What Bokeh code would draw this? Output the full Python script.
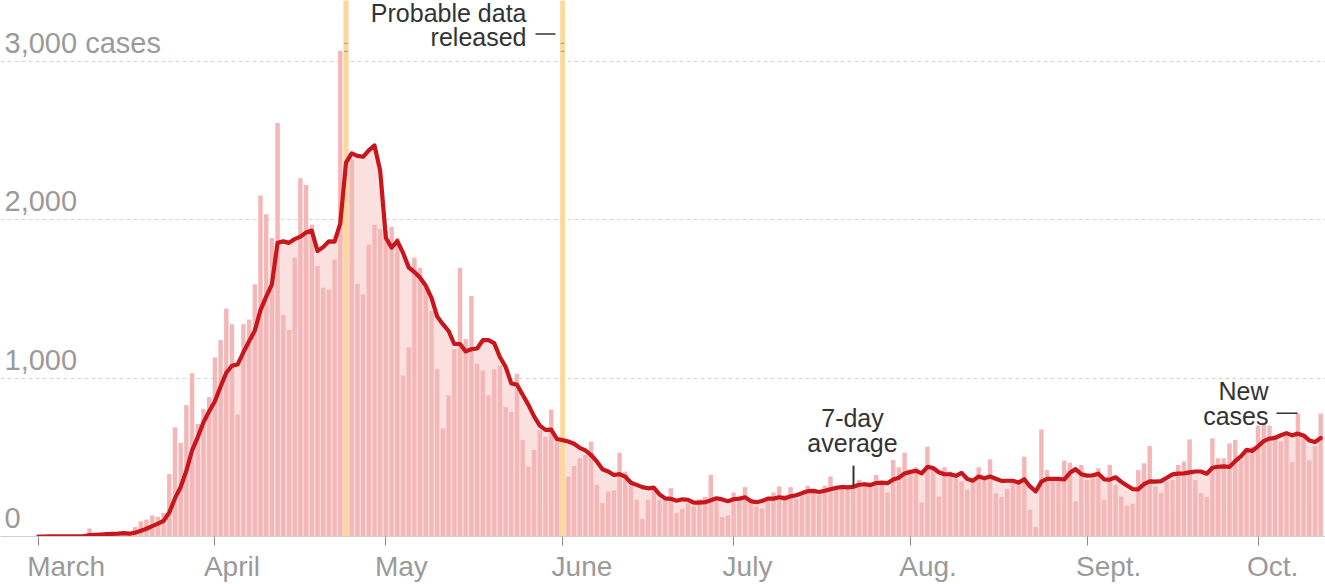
import numpy as np
import pandas as pd
from bokeh.plotting import figure
from bokeh.models import Range1d, FixedTicker, CustomJSTickFormatter, Grid
from bokeh.core.properties import value
from bokeh.embed import file_html
from bokeh.resources import INLINE

# Daily new cases, March 1 (index 0) to Oct. 12, 2020 (index 225)
new_cases = [
    0, 0, 1, 0, 1, 1, 2, 2, 4, 50,
    15, 13, 16, 15, 17, 26, 22, 60, 96, 107,
    132, 125, 150, 394, 690, 590, 830, 1030, 710, 805,
    880, 1130, 1240, 1440, 1340, 770, 1340, 1370, 1592, 2152,
    2035, 1885, 2610, 1399, 1303, 1759, 2261, 2219, 1968, 1707,
    1571, 1560, 1749, 3066, 4900, 2380, 1596, 1529, 1843, 1968,
    1943, 1930, 1956, 1885, 1017, 1194, 1759, 1696, 1571, 1424,
    1058, 682, 891, 1184, 1696, 1247, 1519, 1090, 1048, 891,
    1056, 1079, 818, 786, 1027, 609, 441, 546, 671, 630,
    801, 609, 560, 379, 446, 494, 515, 598, 326, 211,
    284, 290, 529, 410, 326, 232, 111, 232, 316, 232,
    236, 305, 149, 174, 211, 190, 236, 250, 389, 240,
    123, 132, 278, 257, 312, 222, 190, 178, 237, 278,
    316, 264, 312, 237, 274, 320, 295, 264, 320, 379,
    295, 316, 299, 320, 358, 341, 341, 389, 330, 278,
    483, 437, 529, 410, 437, 215, 567, 431, 253, 437,
    410, 368, 347, 295, 358, 437, 358, 487, 274, 250,
    300, 357, 357, 504, 169, 60, 676, 420, 357, 357,
    479, 466, 222, 452, 357, 368, 431, 232, 452, 326,
    253, 195, 207, 420, 462, 571, 316, 274, 347, 357,
    452, 473, 613, 357, 274, 250, 620, 494, 494, 588,
    609, 483, 546, 567, 700, 720, 700, 640, 600, 640,
    470, 776, 640, 480, 570, 776,
]
month_labels = ["March", "April", "May", "June", "July", "Aug.", "Sept.", "Oct."]
month_starts = [0, 31, 61, 92, 122, 153, 184, 214]
y_ticks = [0, 1000, 2000, 3000]
y_tick_labels = ["0", "1,000", "2,000", "3,000 cases"]
release_days = [54, 92]  # April 24 and June 1: probable data released

days = np.arange(len(new_cases))
avg = pd.Series(new_cases, dtype=float).rolling(7, min_periods=1).mean().values

# ---- layout constants (page pixels; figure sits at the page's top-left) ----
W, H = 1325, 584
PX0 = 37.7      # page x of March 1
PXD = 5.70      # px per day
PY0 = 537       # page y of zero
PYU = 0.1587    # px per case
FONT = "Liberation Sans"
BASE_CORR = 0.36  # em; svg alphabetic baseline correction

def dx(px):
    return (px - PX0) / PXD

def dy(py):
    return (PY0 - py) / PYU

# Arial / Liberation Sans advance widths (per 1000 em)
ADV = {"M": 833, "a": 556, "r": 333, "c": 500, "h": 556, "A": 667, "p": 556, "i": 222,
       "l": 222, "y": 500, "J": 500, "u": 556, "n": 556, "e": 556, "g": 556, ".": 278,
       "S": 667, "t": 278, "O": 778}

def text_width(s, size):
    return sum(ADV.get(ch, 556) for ch in s) * size / 1000.0

x_start, x_end = dx(0), dx(W)
y_end = dy(0)

p = figure(width=W, height=H, x_range=Range1d(x_start, x_end), y_range=Range1d(0, y_end),
           output_backend="svg", toolbar_location=None, y_axis_location=None,
           min_border_left=0, min_border_right=0, min_border_top=0,
           min_border_bottom=H - PY0)
p.outline_line_color = None
p.background_fill_color = "white"
p.border_fill_color = "white"
p.grid.visible = False

grid = Grid(dimension=1, ticker=FixedTicker(ticks=y_ticks[1:]),
            grid_line_color="#d6d6d6", grid_line_dash="4 3", grid_line_width=1)
p.add_layout(grid)

# x axis: tick marks at month starts (minor ticks); labels start 11px left of each tick
LBL = 28
label_pos = [m + (text_width(t, LBL) / 2 - 11) / PXD for m, t in zip(month_starts, month_labels)]
xa = p.xaxis[0]
xa.ticker = FixedTicker(ticks=label_pos, minor_ticks=month_starts)
xa.formatter = CustomJSTickFormatter(args=dict(labels=month_labels), code="return labels[index];")
xa.major_tick_line_color = None
xa.major_tick_out = 9
xa.major_tick_in = 0
xa.minor_tick_out = 9
xa.minor_tick_in = 0
xa.minor_tick_line_color = "#8c8c8c"
xa.axis_line_color = "#d0d0d0"
xa.major_label_standoff = 5
xa.major_label_text_font = FONT
xa.major_label_text_font_size = f"{LBL}px"
xa.major_label_text_color = "#9a9a9a"

# shaded area under the 7-day average
p.varea(x=days, y1=0, y2=avg, fill_color="#fbe0e0")
# daily bars
p.vbar(x=days, top=new_cases, width=0.78, fill_color="#f4b7b7", line_color=None)
# probable data release markers
p.vbar(x=release_days, top=y_end, width=0.85, fill_color="#fcd89a", line_color=None)
for yy in (43, 51):
    p.segment(x0=[d - 0.35 for d in release_days], x1=[d + 0.35 for d in release_days],
              y0=[dy(yy)] * len(release_days), y1=[dy(yy)] * len(release_days),
              line_color="#9a9a9a", line_width=1)
# 7-day average line
p.line(days, avg, line_color="#c8161d", line_width=4.2, line_join="round", line_cap="round")

# y labels (baseline 8px above each gridline)
YL = 29
p.text(x=[x_start] * len(y_ticks), y=[v + (8 + BASE_CORR * YL) / PYU for v in y_ticks],
       text=y_tick_labels, text_font=value(FONT),
       text_font_size=f"{YL}px", text_color="#9a9a9a", text_align="left",
       text_baseline="alphabetic", x_offset=4)

# annotations
AN = 25
def note(px, py, txt, align):
    p.text(x=[dx(px)], y=[dy(py - BASE_CORR * AN)], text=[txt], text_font=value(FONT),
           text_font_size=f"{AN}px", text_color="#333333", text_align=align,
           text_baseline="alphabetic")

note(526, 22, "Probable data", "right")
note(526, 46, "released", "right")
p.segment(x0=[dx(535)], x1=[dx(555)], y0=[dy(33.5)], y1=[dy(33.5)], line_color="#333333", line_width=1.5)

note(852, 427, "7-day", "center")
note(852, 452, "average", "center")
p.segment(x0=[dx(853)], x1=[dx(853)], y0=[dy(466)], y1=[dy(487)], line_color="#333333", line_width=2)

note(1268, 400, "New", "right")
note(1268, 425, "cases", "right")
p.segment(x0=[dx(1276)], x1=[dx(1297)], y0=[dy(413.5)], y1=[dy(413.5)], line_color="#333333", line_width=1.5)

open("out.html", "w").write(file_html(p, INLINE))
